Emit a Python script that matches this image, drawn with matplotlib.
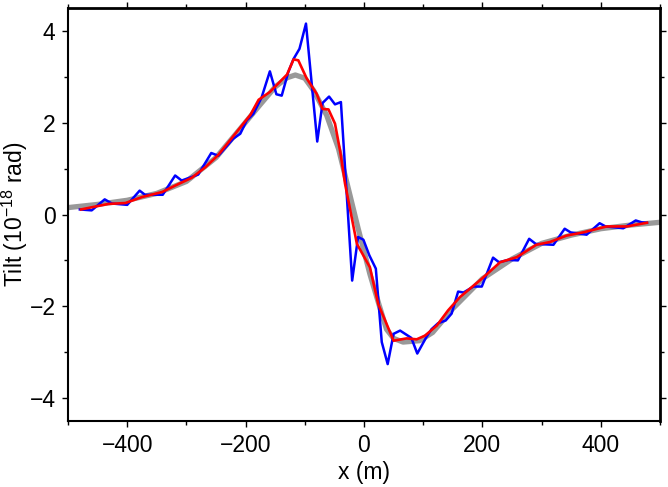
import matplotlib
matplotlib.use("Agg")
import matplotlib.pyplot as plt
from matplotlib.ticker import MultipleLocator

plt.rcParams['font.family'] = ['Liberation Sans', 'DejaVu Sans']
plt.rcParams['mathtext.default'] = 'regular'

# observed tilt (blue)
obs_x = [-480, -460, -438, -426, -400, -379, -370, -340, -319, -308, -280, -258, -246,
         -221, -209, -198, -187, -173, -159, -148, -139, -128, -119, -109, -98, -79,
         -70, -59, -49, -39, -20, -10, -1, 9, 20, 30, 40, 50, 61, 80, 90, 105, 114,
         125, 138, 148, 159, 168, 185, 199, 218, 228, 244, 260, 279, 290, 320, 339,
         349, 376, 398, 408, 438, 459, 469, 478]
obs_y = [0.11, 0.09, 0.33, 0.24, 0.21, 0.52, 0.43, 0.43, 0.85, 0.74, 0.87, 1.34, 1.28,
         1.65, 1.76, 2.05, 2.19, 2.55, 3.12, 2.62, 2.59, 3.10, 3.39, 3.61, 4.16, 1.59,
         2.43, 2.57, 2.40, 2.45, -1.44, -0.49, -0.55, -0.89, -1.18, -2.78, -3.26, -2.60,
         -2.53, -2.69, -3.03, -2.68, -2.50, -2.37, -2.31, -2.16, -1.68, -1.70, -1.57,
         -1.57, -0.94, -1.04, -0.99, -1.00, -0.53, -0.64, -0.66, -0.31, -0.39, -0.44,
         -0.19, -0.26, -0.30, -0.13, -0.17, -0.18]

# filtered tilt (red)
flt_x = [-478, -432, -403, -375, -341, -319, -291, -268, -246, -215, -192, -178, -159,
         -130, -119, -111, -97, -80, -70, -60, -49, -40, -32, -12, 10, 24, 50, 72, 89,
         103, 123, 142, 162, 199, 230, 258, 291, 314, 342, 370, 410, 444, 478]
flt_y = [0.11, 0.23, 0.25, 0.38, 0.49, 0.63, 0.80, 1.03, 1.30, 1.80, 2.17, 2.50, 2.67,
         3.05, 3.38, 3.36, 2.97, 2.63, 2.30, 2.29, 1.98, 1.36, 0.67, -0.64, -1.15, -1.95,
         -2.75, -2.70, -2.72, -2.64, -2.42, -2.09, -1.80, -1.40, -1.04, -0.93, -0.66,
         -0.60, -0.46, -0.39, -0.26, -0.26, -0.18]

# theoretical tilt (gray)
thy_x = [-500, -450, -400, -350, -300, -250, -209, -175, -150, -130, -116, -100, -85,
         -63, -43, -30, -10, 10, 25, 38, 50, 66, 94, 116, 150, 200, 250, 300, 350, 400,
         450, 500]
thy_y = [0.15, 0.22, 0.31, 0.46, 0.72, 1.24, 1.87, 2.40, 2.78, 2.98, 3.04, 2.97, 2.70,
         2.16, 1.43, 0.75, -0.30, -1.30, -1.95, -2.50, -2.70, -2.78, -2.75, -2.57, -2.05,
         -1.40, -0.97, -0.63, -0.45, -0.31, -0.23, -0.17]

fig = plt.figure(figsize=(6.68, 4.87), dpi=100)
ax = fig.add_axes([68/668, 1 - 421/487, (660-68)/668, (421-8)/487])

ax.plot(thy_x, thy_y, color='#999999', lw=3.8, solid_capstyle='round',
        solid_joinstyle='round', zorder=1)
ax.plot(obs_x, obs_y, color='#0000ff', lw=1.8, zorder=2)
ax.plot(flt_x, flt_y, color='#ff0000', lw=1.9, zorder=3)

ax.set_xlim(-500, 500)
ax.set_ylim(-4.5, 4.5)
ax.xaxis.set_major_locator(MultipleLocator(200))
ax.xaxis.set_minor_locator(MultipleLocator(100))
ax.yaxis.set_major_locator(MultipleLocator(2))
ax.yaxis.set_minor_locator(MultipleLocator(1))

ax.tick_params(which='both', direction='out', top=True, right=True,
               labeltop=False, labelright=False, color='black')
ax.tick_params(which='major', length=4, width=1.0, labelsize=16.5, pad=5)
ax.tick_params(which='minor', length=3, width=1.0)

for side, w in [('left', 1.5), ('bottom', 1.5), ('top', 2.0), ('right', 2.0)]:
    ax.spines[side].set_linewidth(w)

ax.set_xlabel('x (m)', fontsize=16.5, labelpad=3)
ax.set_ylabel('Tilt (10$^{-18}$ rad)', fontsize=16.5, va='center')
ax.yaxis.set_label_coords((15 - 68) / 592, 0.5)

fig.savefig('out.png', dpi=100)
